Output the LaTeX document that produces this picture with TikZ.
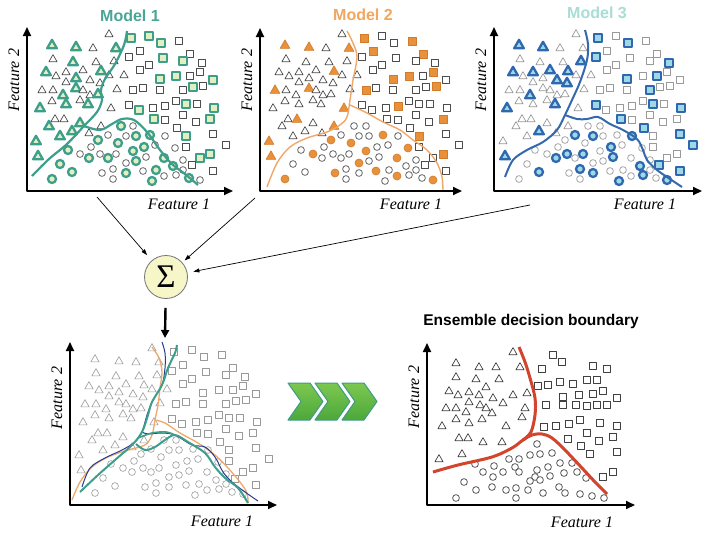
\documentclass[tikz,border=0pt]{standalone}
\usepackage{fontspec}
\setmainfont{Liberation Serif}
\setsansfont{Liberation Sans}
\usetikzlibrary{arrows.meta}
\definecolor{tealA}{HTML}{3E9E8C}
\definecolor{tealT}{HTML}{4BA596}
\definecolor{tealF}{HTML}{E4EFC0}
\definecolor{orgA}{HTML}{E8913A}
\definecolor{orgD}{HTML}{D07A2A}
\definecolor{orgL}{HTML}{F0A86A}
\definecolor{orgT}{HTML}{F2A65E}
\definecolor{bluA}{HTML}{2F68AE}
\definecolor{bluF}{HTML}{9ED8E6}
\definecolor{bluL}{HTML}{3469AE}
\definecolor{m3T}{HTML}{A8DDD5}
\definecolor{dkblu}{HTML}{283C96}
\definecolor{redL}{HTML}{D2452C}
\definecolor{sigF}{HTML}{F7F6C8}
\definecolor{chevT}{HTML}{7CC850}
\definecolor{chevB}{HTML}{4CA83A}
\definecolor{chevD}{HTML}{3F9A8A}

\def\TRIS{82/157/000,25/146/111,49/144/111,66/143/000,89/143/110,26/132/000,46/129/100,69/129/000,87/130/001,19/119/101,29/115/000,39/119/001,56/121/001,74/120/111,82/116/000,97/116/000,39/109/000,49/113/100,63/111/001,73/108/001,15/101/010,26/101/000,36/96/101,49/103/110,56/101/000,63/96/000,71/97/100,90/102/000,25/90/000,39/87/100,53/91/000,61/87/101,13/83/101,84/83/010,28/72/000,37/72/010,22/65/100,53/68/100,74/65/010,9/50/110,33/55/100,45/60/101,62/58/000,11/35/111}
\def\SQS{104/153/111,122/155/100,134/148/101,152/150/010,102/134/001,113/140/010,136/133/100,163/137/010,113/121/000,122/126/000,156/130/100,175/128/001,133/112/111,149/115/110,163/115/001,173/119/010,186/111/100,106/101/010,116/103/000,133/101/000,156/101/001,166/104/100,176/105/010,102/86/001,112/81/100,126/83/000,138/85/010,149/90/000,159/87/101,170/87/000,187/83/101,127/72/101,138/71/000,156/76/000,169/69/000,183/72/110,150/63/001,159/55/110,186/57/001,199/46/001,159/44/000,173/33/100,183/37/110,165/26/001,186/20/001}
\def\CIRS{94/65/100,106/65/000,71/51/110,81/56/001,99/55/001,109/55/100,123/56/110,138/55/001,64/44/000,91/48/110,117/44/101,128/46/000,148/43/010,41/41/100,53/37/010,62/33/101,73/37/001,81/33/100,89/37/001,106/40/110,109/30/100,119/34/001,137/33/110,156/31/000,33/27/100,45/19/101,25/12/110,75/18/010,86/22/001,99/18/101,86/12/000,99/28/010,116/20/010,129/21/100,125/10/101,137/15/010,149/16/001,146/25/101,162/13/100,173/11/011,156/21/000}

\def\BRT{86/153,29/142,52/138,69/138,93/138,29/128,49/126,72/126,22/114,31/110,42/113,59/118,52/110,66/107,86/110,100/112,42/103,53/100,76/102,19/97,29/97,39/93,59/97,65/92,98/97,29/86,42/82,55/86,95/88,15/79,79/79,32/67,41/67,56/63,75/63,12/46,35/51}
\def\BRS{126/150,135/143,115/136,166/139,180/136,111/119,121/120,133/123,146/121,160/125,170/125,136/108,152/110,166/111,176/114,190/107,119/100,136/100,149/100,160/99,170/100,180/100,117/78,129/79,142/81,153/85,173/82,190/79,141/66,160/72,172/64,186/68,154/59,163/51,190/53,176/28,186/33}
\def\BRC{110/61,82/46,92/46,103/50,113/51,125/52,48/41,67/39,88/38,110/35,121/38,133/42,145/42,56/33,66/28,76/33,92/33,108/28,123/29,137/32,150/33,159/27,37/23,103/24,113/25,65/18,79/15,89/17,101/15,132/18,49/15,89/7,116/12,29/7,138/12,153/11,165/9,177/7}

\def\pickd#1#2#3#4\relax{\ifcase\pnl\relax\or#1\or#2\or#3\else0\fi}
\def\pnl{1}

\newcommand\panelpts{%
 \foreach \pu/\pv/\q in \TRIS {\edef\mkc{\expandafter\pickd\q\relax}%
   \ifnum\mkc=1 \draw[shift={(\pu,-\pv)},hl] (0,-4.4)--(4.1,2.8)--(-4.1,2.8)--cycle;%
   \else \draw[shift={(\pu,-\pv)},op] (0,-4.4)--(4.1,2.8)--(-4.1,2.8)--cycle;\fi}%
 \foreach \pu/\pv/\q in \SQS {\edef\mkc{\expandafter\pickd\q\relax}%
   \ifnum\mkc=1 \draw[shift={(\pu,-\pv)},hl] (-3.3,-3.3) rectangle (3.3,3.3);%
   \else \draw[shift={(\pu,-\pv)},op] (-3.3,-3.3) rectangle (3.3,3.3);\fi}%
 \foreach \pu/\pv/\q in \CIRS {\edef\mkc{\expandafter\pickd\q\relax}%
   \ifnum\mkc=1 \draw[shift={(\pu,-\pv)},hl] (0,0) circle (3.4);%
   \else \draw[shift={(\pu,-\pv)},op] (0,0) circle (3.4);\fi}%
}

\tikzset{
 axis/.style={line width=2pt,{Triangle[length=9pt,width=8pt]}-{Triangle[length=9pt,width=8pt]}},
 flab/.style={font=\fontsize{16}{16}\selectfont\itshape,inner sep=0pt},
 ylab/.style={flab,rotate=90},
 ttl/.style={font=\sffamily\bfseries\fontsize{16}{16}\selectfont,inner sep=0pt},
 thinarr/.style={line width=0.7pt,-{Triangle[length=6pt,width=4pt]}},
 downarr/.style={line width=2.4pt,-{Triangle[length=8pt,width=8pt]}},
 chev/.style={top color=chevT,bottom color=chevB,draw=chevD,line width=1pt},
 bnd/.style={smooth,tension=0.55,line cap=round}
}

\begin{document}
\begin{tikzpicture}[x=1pt,y=-1pt,line join=round]
\fill[white] (0,0) rectangle (720,538);
\useasboundingbox (0,0) rectangle (720,538);

% ---------- Panel 1 ----------
\begin{scope}[shift={(27,191)}]
 \def\pnl{1}
 \tikzset{op/.style={draw=black!70,line width=0.7pt,fill=white},
          hl/.style={draw=tealA,line width=2.3pt,fill=tealF,scale=1.18}}
 \panelpts
 \draw[tealA,line width=2.2pt] plot[bnd] coordinates {(5,-15) (22,-32) (40,-47) (57,-65) (70,-79) (75,-91) (74,-101) (78,-112) (88,-127) (97,-146) (100,-160)};
 \draw[tealA,line width=2.2pt] plot[bnd] coordinates {(57,-65) (73,-61) (85,-67) (95,-72) (107,-71) (120,-59) (133,-41) (145,-27) (158,-17) (171,-6)};
 \draw[axis] (0,-164) -- (0,0) -- (206,0);
 \node[flab] (fx1) at (152,13) {Feature 1};
 \node[ylab] (fy1) at (-13,-111) {Feature 2};
\end{scope}
\node[ttl,text=tealT] (m1) at (130,16) {Model 1};

% ---------- Panel 2 ----------
\begin{scope}[shift={(260,191)}]
 \def\pnl{2}
 \tikzset{op/.style={draw=black!70,line width=0.7pt,fill=white},
          hl/.style={draw=orgD,line width=0.6pt,fill=orgA,scale=1.18}}
 \panelpts
 \draw[orgL,line width=1.4pt] plot[bnd] coordinates {(7,-4) (17,-28) (30,-44) (47,-53) (67,-59) (80,-66) (87,-74) (90,-91) (93,-111) (97,-134) (93,-148) (87,-160)};
 \draw[orgL,line width=1.4pt] plot[bnd] coordinates {(90,-86) (107,-78) (123,-69) (140,-61) (153,-51) (167,-41) (177,-28) (182,-14) (183,0)};
 \draw[axis] (0,-163) -- (0,0) -- (202,0);
 \node[flab] (fx2) at (151,13) {Feature 1};
 \node[ylab] (fy2) at (-13,-111) {Feature 2};
\end{scope}
\node[ttl,text=orgT] (m2) at (363,15) {Model 2};

% ---------- Panel 3 ----------
\begin{scope}[shift={(494,191)}]
 \def\pnl{3}
 \tikzset{op/.style={draw=black!40,line width=0.7pt,fill=white},
          hl/.style={draw=bluA,line width=2.3pt,fill=bluF,scale=1.18}}
 \panelpts
 \draw[bluL,line width=2pt] plot[bnd] coordinates {(11,-14) (19,-31) (33,-41) (49,-49) (63,-61) (71,-76) (78,-91) (86,-109) (93,-131) (94,-147) (91,-161)};
 \draw[bluL,line width=2pt] plot[bnd] coordinates {(71,-76) (83,-72) (93,-72) (104,-74) (116,-67) (129,-61) (143,-52) (149,-41) (153,-31) (163,-21) (176,-12) (188,-4)};
 \draw[axis] (0,-164) -- (0,0) -- (208,0);
 \node[flab] (fx3) at (151,13) {Feature 1};
 \node[ylab] (fy3) at (-13,-111) {Feature 2};
\end{scope}
\node[ttl,text=m3T] (m3) at (597,13) {Model 3};

% ---------- Sigma and arrows ----------
\node[circle,draw=black!55,line width=0.8pt,fill=sigF,minimum size=43pt,inner sep=0pt,
      font=\fontsize{33}{33}\selectfont] (sig) at (166,277) {Σ};
\coordinate (s1) at (97,197);
\coordinate (s2) at (255,198);
\coordinate (s3) at (530,205);
\coordinate (d2) at (165,338);
\draw[thinarr,shorten >=7pt] (s1) -- (sig);
\draw[thinarr,shorten >=3pt] (s2) -- (sig);
\draw[thinarr,shorten >=6pt] (s3) -- (sig);
\draw[downarr,shorten <=9pt] (sig) -- (d2);

% ---------- Bottom-left combined ----------
\begin{scope}[shift={(70,505)}]
 \def\pnl{4}
 \tikzset{op/.style={draw=black!40,line width=0.6pt,fill=white},
          hl/.style={op}}
 \panelpts
 \draw[orgL,line width=1.3pt] plot[bnd] coordinates {(2,-5) (10,-23) (22,-38) (38,-48) (58,-55) (75,-60) (82,-70) (85,-85) (88,-100) (90,-117) (92,-133) (89,-147) (82,-158)};
 \draw[orgL,line width=1.3pt] plot[bnd] coordinates {(85,-85) (95,-82) (110,-72) (128,-62) (145,-50) (158,-37) (170,-23) (177,-12) (178,-2)};
 \draw[dkblu,line width=1pt] plot[bnd] coordinates {(12,-18) (20,-37) (35,-47) (52,-55) (65,-63) (72,-73) (77,-90) (83,-105) (92,-120) (95,-137) (95,-152) (92,-163)};
 \draw[dkblu,line width=1pt] plot[bnd] coordinates {(72,-73) (78,-71) (92,-72) (105,-70) (122,-60) (135,-58) (145,-48) (153,-33) (162,-23) (175,-13) (188,-4)};
 \draw[tealA,line width=2pt] plot[bnd] coordinates {(10,-13) (28,-30) (45,-45) (62,-60) (72,-73) (78,-90) (82,-103) (92,-120) (98,-137) (105,-152) (107,-160)};
 \draw[tealA,line width=2pt] plot[bnd] coordinates {(66,-61) (75,-55) (85,-58) (95,-65) (105,-70) (118,-63) (135,-52) (145,-38) (155,-27) (168,-17) (178,-2)};
 \draw[tealA,line width=1.6pt] plot[bnd] coordinates {(68,-67) (82,-72) (96,-73) (105,-70)};
 \draw[axis] (0,-163) -- (0,0) -- (207,0);
 \node[flab] (fx4) at (152,16) {Feature 1};
 \node[ylab] (fy4) at (-13,-107) {Feature 2};
\end{scope}

% ---------- Chevrons ----------
\foreach \cx in {288,315,342}
 \path[chev] (\cx,383) -- ++(22,0) -- ++(13,18.5) -- ++(-13,18.5) -- ++(-22,0) -- ++(13,-18.5) -- cycle;

% ---------- Bottom-right ensemble ----------
\node[ttl,font=\sffamily\bfseries\fontsize{15.5}{15.5}\selectfont] (ens) at (531,321) {Ensemble decision boundary};
\begin{scope}[shift={(427,505)}]
 \tikzset{op/.style={draw=black!75,line width=0.7pt,fill=white}}
 \foreach \pu/\pv in \BRT {\draw[shift={(\pu,-\pv)},op] (0,-4.4)--(4.1,2.8)--(-4.1,2.8)--cycle;}
 \foreach \pu/\pv in \BRS {\draw[shift={(\pu,-\pv)},op] (-3.3,-3.3) rectangle (3.3,3.3);}
 \foreach \pu/\pv in \BRC {\draw[shift={(\pu,-\pv)},op] (0,0) circle (3.4);}
 \draw[redL,line width=3pt] plot[bnd] coordinates {(6,-33) (31,-40) (65,-48) (85,-57) (96,-65) (105,-70) (115,-71) (125,-67) (138,-55) (155,-37) (168,-23) (180,-11)};
 \draw[redL,line width=3pt] plot[bnd] coordinates {(96,-65) (104,-73) (108,-90) (108,-107) (103,-127) (98,-143) (92,-158)};
 \draw[axis] (0,-162) -- (0,0) -- (208,0);
 \node[flab] (fx5) at (155,17) {Feature 1};
 \node[ylab] (fy5) at (-13,-108) {Feature 2};
\end{scope}
\end{tikzpicture}
\end{document}
